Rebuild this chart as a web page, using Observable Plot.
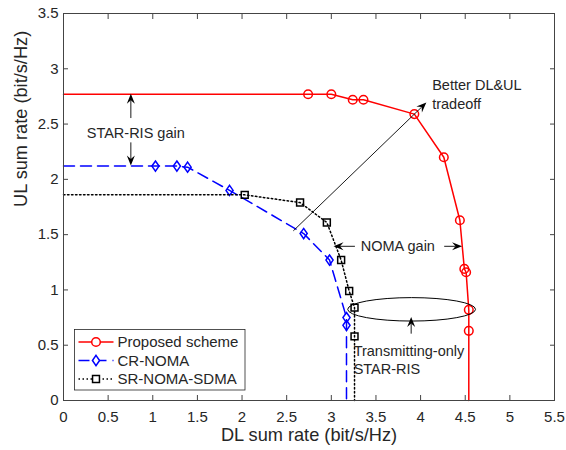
<!DOCTYPE html>
<html><head><meta charset="utf-8">
<script src="https://cdn.jsdelivr.net/npm/d3@7"></script>
<script src="https://cdn.jsdelivr.net/npm/@observablehq/plot@0.6"></script>
<style>
body{margin:0;background:#fff;}
#chart svg{font-family:"Liberation Sans",Arial,sans-serif;}
</style>
</head><body><div id="chart"></div>
<script>
// ---- data ----
const seriesNames = ["Proposed scheme", "CR-NOMA", "SR-NOMA-SDMA"];
const proposedDL = [2.74, 3.00, 3.24, 3.36, 3.93, 4.26, 4.44, 4.49, 4.51, 4.54, 4.54];
const proposedUL = [2.77, 2.77, 2.72, 2.72, 2.59, 2.20, 1.63, 1.19, 1.16, 0.82, 0.63];
const crNomaDL = [1.03, 1.27, 1.39, 1.86, 2.69, 2.98, 3.17, 3.17];
const crNomaUL = [2.12, 2.12, 2.11, 1.90, 1.51, 1.27, 0.75, 0.68];
const srNomaDL = [2.03, 2.65, 2.95, 3.11, 3.20, 3.26, 3.26];
const srNomaUL = [1.86, 1.79, 1.61, 1.27, 0.99, 0.84, 0.58];
const xTicks = [0, 0.5, 1, 1.5, 2, 2.5, 3, 3.5, 4, 4.5, 5, 5.5];
const yTicks = [0, 0.5, 1, 1.5, 2, 2.5, 3, 3.5];
const xLabel = "DL sum rate (bit/s/Hz)";
const yLabel = "UL sum rate (bit/s/Hz)";
// annotations
const annTexts = [
  {x: 0.26, y: 2.42, t: "STAR-RIS gain"},
  {x: 4.13, y: 2.85, t: "Better DL&UL"},
  {x: 4.13, y: 2.68, t: "tradeoff"},
  {x: 3.33, y: 1.39, t: "NOMA gain"},
  {x: 3.25, y: 0.44, t: "Transmitting-only"},
  {x: 3.25, y: 0.28, t: "STAR-RIS"}
];
const annArrows = [
  {x1: 0.76, y1: 2.55, x2: 0.76, y2: 2.77},
  {x1: 0.76, y1: 2.33, x2: 0.76, y2: 2.12},
  {x1: 2.58, y1: 1.53, x2: 4.07, y2: 2.69},
  {x1: 3.27, y1: 1.39, x2: 3.03, y2: 1.39},
  {x1: 4.27, y1: 1.39, x2: 4.47, y2: 1.39},
  {x1: 3.90, y1: 0.60, x2: 3.90, y2: 0.75}
];
const annEllipse = {cx: 3.905, cy: 0.82, rx: 0.716, ry: 0.106};

// ---- build tables ----
function pts(dl, ul){ return dl.map((d,i)=>({dl:d, ul:ul[i]})); }
function path(dl, ul){
  const p = pts(dl, ul);
  return [{dl:0, ul:p[0].ul}, ...p, {dl:p[p.length-1].dl, ul:0}];
}
// MATLAB-like diamond (width/height = 0.7)
const matDiamond = {draw(ctx, size){
  const h = Math.sqrt(size / 1.4), w = 0.7 * h;
  ctx.moveTo(0, -h); ctx.lineTo(w, 0); ctx.lineTo(0, h); ctx.lineTo(-w, 0); ctx.closePath();
}};
const colors = ["#ff0000", "#0000ff", "#000000"];
const symbols = [d3.symbolCircle, matDiamond, d3.symbolSquare];
const dashes = [null, "11,6", "1.5,2.5"];
const dls = [proposedDL, crNomaDL, srNomaDL];
const uls = [proposedUL, crNomaUL, srNomaUL];
const markerR = [4.3, 3.4, 3.9];
const fmt = d => String(d);

const seriesMarks = [];
dls.forEach((dl, k) => {
  seriesMarks.push(Plot.line(path(dl, uls[k]), {x:"dl", y:"ul", stroke: colors[k], strokeWidth: 1.5, strokeDasharray: dashes[k]}));
  seriesMarks.push(Plot.dot(pts(dl, uls[k]), {x:"dl", y:"ul", stroke: colors[k], strokeWidth: 1.5, symbol: symbols[k], r: markerR[k], fill: "none"}));
});

// filled arrowheads in the style of the figure
function arrowMark(index, {x, y}){
  const g = d3.create("svg:g");
  annArrows.forEach(a => {
    const X1 = x(a.x1), Y1 = y(a.y1), X2 = x(a.x2), Y2 = y(a.y2);
    const ang = Math.atan2(Y2 - Y1, X2 - X1);
    const L = 10, W = 4, back = 6.5;
    const ux = Math.cos(ang), uy = Math.sin(ang), px = -uy, py = ux;
    g.append("line").attr("x1", X1).attr("y1", Y1).attr("x2", X2 - ux * back).attr("y2", Y2 - uy * back)
      .attr("stroke", "#000").attr("stroke-width", 0.9);
    const bx = X2 - ux * L, by = Y2 - uy * L;
    const nx = X2 - ux * back, ny = Y2 - uy * back;
    g.append("path").attr("d", `M${X2},${Y2}L${bx + px * W},${by + py * W}L${nx},${ny}L${bx - px * W},${by - py * W}Z`)
      .attr("fill", "#000");
  });
  return g.node();
}

// ellipse mark
function ellipseMark(index, {x, y}){
  const g = d3.create("svg:g");
  g.append("ellipse")
    .attr("cx", x(annEllipse.cx)).attr("cy", y(annEllipse.cy))
    .attr("rx", x(annEllipse.cx + annEllipse.rx) - x(annEllipse.cx))
    .attr("ry", y(annEllipse.cy) - y(annEllipse.cy + annEllipse.ry))
    .attr("fill", "none").attr("stroke", "#000").attr("stroke-width", 1);
  return g.node();
}

// legend mark
function legendMark(index, scales, values, dims){
  const g = d3.create("svg:g");
  const bx = 74.5, by = 329.5, bw = 170.5, bh = 60.5;
  g.append("rect").attr("x", bx).attr("y", by).attr("width", bw).attr("height", bh)
    .attr("fill", "#fff").attr("stroke", "#262626").attr("stroke-width", 0.8);
  seriesNames.forEach((name, k) => {
    const yy = by + 12.5 + k * 18.5;
    g.append("line").attr("x1", bx + 4).attr("x2", bx + 39).attr("y1", yy).attr("y2", yy)
      .attr("stroke", colors[k]).attr("stroke-width", 1.5).attr("stroke-dasharray", dashes[k]);
    const sym = d3.symbol().type(symbols[k]).size(Math.PI * markerR[k] * markerR[k]);
    g.append("path").attr("d", sym()).attr("transform", `translate(${bx + 21.5},${yy})`)
      .attr("fill", "#fff").attr("stroke", colors[k]).attr("stroke-width", 1.5);
    g.append("text").attr("x", bx + 43).attr("y", yy).attr("dy", "0.35em")
      .attr("text-anchor", "start")
      .attr("font-size", 15).attr("fill", "#262626").text(name);
  });
  return g.node();
}

const chart = Plot.plot({
  width: 566, height: 450,
  marginLeft: 63, marginRight: 12, marginTop: 13, marginBottom: 50,
  x: {domain: [0, 5.5]},
  y: {domain: [0, 3.5]},
  style: {fontFamily: "'Liberation Sans', Arial, sans-serif", color: "#262626", background: "#fff", overflow: "visible"},
  marks: [
    Plot.axisX(xTicks, {anchor: "bottom", tickSize: 0, tickPadding: 10.5, fontSize: 15, label: null, tickFormat: fmt}),
    Plot.axisY(yTicks, {anchor: "left", tickSize: 0, tickPadding: 5, fontSize: 15, label: null, tickFormat: fmt}),
    Plot.axisX(xTicks, {anchor: "bottom", tickSize: -5, tickFormat: () => "", label: null, stroke: "#444"}),
    Plot.axisX(xTicks, {anchor: "top", tickSize: -5, tickFormat: () => "", label: null, stroke: "#444"}),
    Plot.axisY(yTicks, {anchor: "left", tickSize: -5, tickFormat: () => "", label: null, stroke: "#444"}),
    Plot.axisY(yTicks, {anchor: "right", tickSize: -5, tickFormat: () => "", label: null, stroke: "#444"}),
    Plot.text([xLabel], {frameAnchor: "bottom", dy: 40.5, fontSize: 18.2, fill: "#262626"}),
    Plot.text([yLabel], {frameAnchor: "left", dx: -42, rotate: -90, fontSize: 18.2, fill: "#262626"}),
    ...seriesMarks,
    arrowMark,
    ellipseMark,
    Plot.text(annTexts, {x: "x", y: "y", text: "t", textAnchor: "start", fontSize: 14.5, fill: "#262626"}),
    legendMark,
    Plot.frame({stroke: "#444", strokeWidth: 1})
  ]
});
document.getElementById("chart").appendChild(chart);
</script>
</body></html>
